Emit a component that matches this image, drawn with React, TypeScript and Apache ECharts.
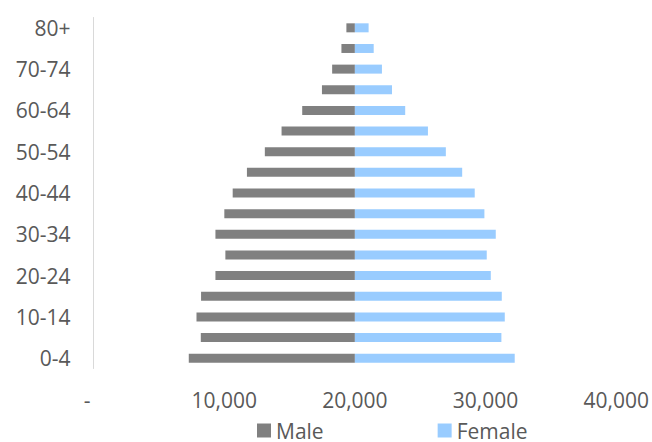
import React, { useEffect, useRef } from "react";
import * as echarts from "echarts";

const categories = [
  "0-4", "5-9", "10-14", "15-19", "20-24", "25-29", "30-34", "35-39",
  "40-44", "45-49", "50-54", "55-59", "60-64", "65-69", "70-74", "75-79", "80+",
];
const male = [
  12710, 11790, 12120, 11770, 10670, 9910, 10670, 9990,
  9350, 8260, 6890, 5610, 4030, 2520, 1740, 1030, 650,
];
const female = [
  12230, 11210, 11470, 11240, 10400, 10090, 10780, 9910,
  9170, 8210, 6960, 5590, 3850, 2840, 2070, 1440, 1050,
];
const center = 20000;
const xTicks = [0, 10000, 20000, 30000, 40000];

const FONT = "'Open Sans', sans-serif";
const TEXT = "#595959";

export default function App() {
  const ref = useRef<HTMLDivElement>(null);
  useEffect(() => {
    if (!ref.current) return;
    const chart = echarts.init(ref.current, undefined, { renderer: "svg" });
    const base = male.map((m) => center - m);
    chart.setOption({
      animation: false,
      textStyle: { fontFamily: FONT },
      grid: { left: 93.5, right: 34.5, top: 17.5, bottom: 73.5, containLabel: false },
      legend: {
        data: ["Male", "Female"],
        left: 252,
        top: 415,
        itemWidth: 14,
        itemHeight: 14,
        itemGap: 114,
        icon: "rect",
        textStyle: { color: TEXT, fontSize: 21, fontFamily: FONT, padding: [0, 0, 0, 0] },
      },
      xAxis: {
        type: "value",
        min: xTicks[0],
        max: xTicks[xTicks.length - 1],
        interval: 10000,
        axisLine: { show: false },
        axisTick: { show: false },
        splitLine: { show: false },
        axisLabel: {
          color: TEXT,
          fontSize: 21,
          fontFamily: FONT,
          margin: 21,
          formatter: (v: number) => (v === 0 ? "{d|-}" : v.toLocaleString("en-US")),
          rich: { d: { color: TEXT, fontSize: 21, fontFamily: FONT, padding: [0, 13, 0, 0] } },
        },
      },
      yAxis: {
        type: "category",
        data: categories,
        axisLine: { show: true, lineStyle: { color: "#d9d9d9", width: 1 } },
        axisTick: { show: false },
        axisLabel: { color: TEXT, fontSize: 21, fontFamily: FONT, margin: 23, interval: 1 },
      },
      series: [
        {
          name: "base",
          type: "bar",
          stack: "s",
          data: base,
          barWidth: 9,
          itemStyle: { color: "transparent" },
          silent: true,
        },
        {
          name: "Male",
          type: "bar",
          stack: "s",
          data: male,
          barWidth: 9,
          itemStyle: { color: "#808080" },
        },
        {
          name: "Female",
          type: "bar",
          stack: "s",
          data: female,
          barWidth: 9,
          itemStyle: { color: "#99CCFF" },
        },
      ],
    });
    return () => chart.dispose();
  }, []);
  return (
    <div
      ref={ref}
      style={{ position: "fixed", left: 0, top: 0, width: 652, height: 442, background: "#fff" }}
    />
  );
}
